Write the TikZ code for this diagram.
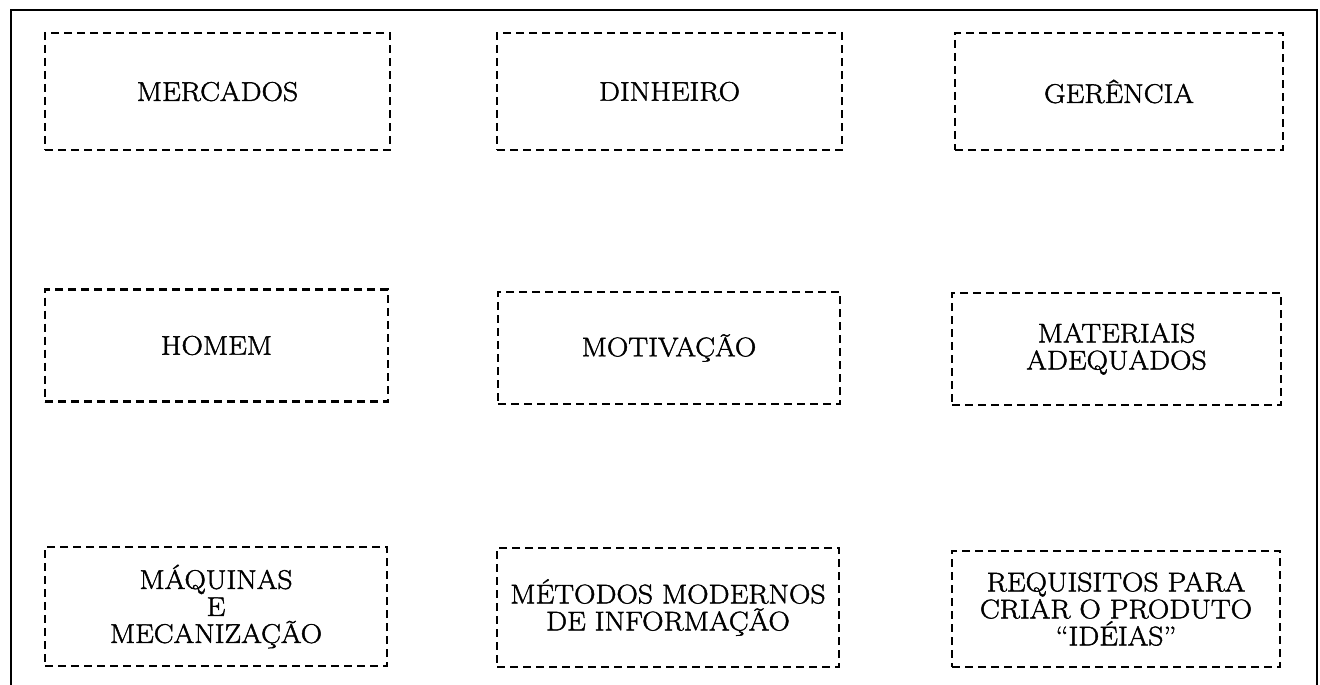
\documentclass[tikz,border=0pt]{standalone}
\usepackage{fontspec}
\newfontfamily\boxfont[Ligatures=TeX,FakeBold=1.6,FakeStretch=1.1]{Latin Modern Roman}
\begin{document}
\begin{tikzpicture}[x=1pt,y=-1pt,
  box/.style={draw=black, line width=2.6pt, dash pattern=on 8pt off 5pt,
    inner sep=0pt, outer sep=0pt, align=center,
    font=\boxfont\fontsize{27}{27}\selectfont},
  frame/.style={draw=black, line width=2.6pt}]
\useasboundingbox (0,0) rectangle (1320,685);
\coordinate (fbl) at (11,685);
\coordinate (ftl) at (11,10);
\coordinate (ftr) at (1317,10);
\coordinate (fbr) at (1317,685);
\draw[frame] (fbl) -- (ftl) -- (ftr) -- (fbr);

\node[box, minimum width=345pt, minimum height=117pt] (mercados) at (217.5,91.5) {MERCADOS};
\node[box, minimum width=345pt, minimum height=117pt] (dinheiro) at (669.5,91.5) {DINHEIRO};
\node[box, minimum width=328pt, minimum height=117pt] (gerencia) at (1119,91.5) {GERÊNCIA};

\node[box, minimum width=343pt, minimum height=112pt] (homem) at (216.5,345.5) {HOMEM};
\node[box, minimum width=342pt, minimum height=112pt] (motivacao) at (669,348) {MOTIVAÇÃO};
\node[box, minimum width=329pt, minimum height=112pt] (materiais) at (1116.5,349) {MATERIAIS\\ADEQUADOS};

\node[box, minimum width=342pt, minimum height=119pt] (maquinas) at (216,606.5) {MÁQUINAS\\E\\MECANIZAÇÃO};
\node[box, minimum width=342pt, minimum height=119pt] (metodos) at (668,607.5) {MÉTODOS MODERNOS\\DE INFORMAÇÃO};
\node[box, minimum width=328pt, minimum height=116pt] (requisitos) at (1116,609) {REQUISITOS PARA\\CRIAR O PRODUTO\\“IDÉIAS”};
\end{tikzpicture}
\end{document}
